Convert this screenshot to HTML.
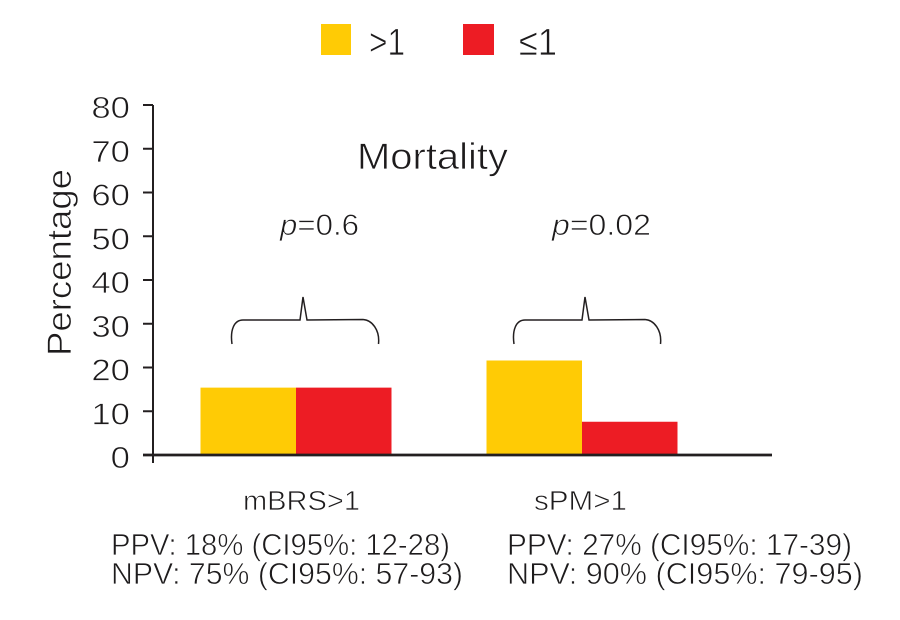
<!DOCTYPE html>
<html lang="en">
<head>
<meta charset="utf-8">
<title>Mortality chart</title>
<style>
html,body{margin:0;padding:0;background:#fff;width:900px;height:620px;overflow:hidden}
svg{display:block}
text{font-family:"Liberation Sans",sans-serif;fill:#1d1b1c;stroke:#fff;stroke-width:.7px}
</style>
</head>
<body>
<svg id="chart" xmlns="http://www.w3.org/2000/svg" width="900" height="620" viewBox="0 0 900 620">
  <g>
    <rect x="321" y="24" width="30" height="31" fill="#FFCB05"/>
    <text x="369" y="55" font-size="38" textLength="36" lengthAdjust="spacingAndGlyphs">&gt;1</text>
    <rect x="463" y="24" width="31" height="31" fill="#ED1C24"/>
    <text x="519" y="55" font-size="38" textLength="38" lengthAdjust="spacingAndGlyphs">≤1</text>
  </g>
  <text x="357" y="169" font-size="37" textLength="151" lengthAdjust="spacingAndGlyphs">Mortality</text>
  <text transform="translate(71,356) rotate(-90)" font-size="34" textLength="187" lengthAdjust="spacingAndGlyphs">Percentage</text>
  <text x="280" y="235" font-size="30" textLength="79" lengthAdjust="spacingAndGlyphs"><tspan font-style="italic">p</tspan>=0.6</text>
  <text x="552" y="235" font-size="30" textLength="99" lengthAdjust="spacingAndGlyphs"><tspan font-style="italic">p</tspan>=0.02</text>
  <g id="marks"></g>
  <g id="axis"></g>
  <path d="M232 344C230 330 234 320 243 320L300 320L303 297L307 320L363 319.5C372 320 380 330 378.500 344" fill="none" stroke="#231F20" stroke-width="1.500"/>
  <path d="M514 344C512 330 516 320 525 320L582 320L585 297L589 320L645 319.500C654 320 662 330 660.500 344" fill="none" stroke="#231F20" stroke-width="1.500"/>
  <text x="243" y="510" font-size="28" textLength="117" lengthAdjust="spacingAndGlyphs">mBRS&gt;1</text>
  <text x="534" y="510" font-size="28" textLength="93" lengthAdjust="spacingAndGlyphs">sPM&gt;1</text>
  <text x="111" y="555" font-size="31" textLength="339" lengthAdjust="spacingAndGlyphs">PPV: 18% (CI95%: 12-28)</text>
  <text x="111" y="584" font-size="31" textLength="352" lengthAdjust="spacingAndGlyphs">NPV: 75% (CI95%: 57-93)</text>
  <text x="507" y="555" font-size="31" textLength="345" lengthAdjust="spacingAndGlyphs">PPV: 27% (CI95%: 17-39)</text>
  <text x="507" y="584" font-size="31" textLength="356" lengthAdjust="spacingAndGlyphs">NPV: 90% (CI95%: 79-95)</text>
</svg>
<script>
const categories = ["mBRS>1", "sPM>1"];
const seriesAbove = [15.4, 21.6];
const seriesAtMost = [15.4, 7.6];
const tickValues = [0, 10, 20, 30, 40, 50, 60, 70, 80];

const NS = "http://www.w3.org/2000/svg";
const baselineY = 455;
const unitHeight = 4.375;
const axisX = 153;
const barWidth = 95.5;
function yScale(v) { return baselineY - v * unitHeight; }
function xGroup(i) { return 296 + 286 * i; }
function make(tag, attrs) {
  const el = document.createElementNS(NS, tag);
  for (const k in attrs) el.setAttribute(k, attrs[k]);
  return el;
}
const marks = document.getElementById("marks");
const axis = document.getElementById("axis");

categories.forEach(function (c, i) {
  const a = make("rect", { x: xGroup(i) - barWidth, y: yScale(seriesAbove[i]), width: barWidth, height: baselineY - yScale(seriesAbove[i]), fill: "#FFCB05" });
  
  
  marks.appendChild(a);
  const b = make("rect", { x: xGroup(i), y: yScale(seriesAtMost[i]), width: barWidth, height: baselineY - yScale(seriesAtMost[i]), fill: "#ED1C24" });
  
  
  marks.appendChild(b);
});

const yLine = make("line", { x1: axisX, x2: axisX, y1: yScale(80), y2: 463, stroke: "#231F20", "stroke-width": 2 });


axis.appendChild(yLine);

const xLine = make("line", { x1: 143, x2: 772, y1: baselineY, y2: baselineY, stroke: "#231F20", "stroke-width": 2.8 });


axis.appendChild(xLine);

tickValues.forEach(function (v) {
  const t = make("line", { x1: 143, x2: axisX, y1: yScale(v), y2: yScale(v), stroke: "#231F20", "stroke-width": 2 });
  
  
  axis.appendChild(t);
  const l = make("text", { transform: "translate(130," + (yScale(v) + 13) + ") scale(1.12,1)", "text-anchor": "end", "font-size": 31 });
  
  
  l.textContent = v;
  axis.appendChild(l);
});
</script>
</body>
</html>
